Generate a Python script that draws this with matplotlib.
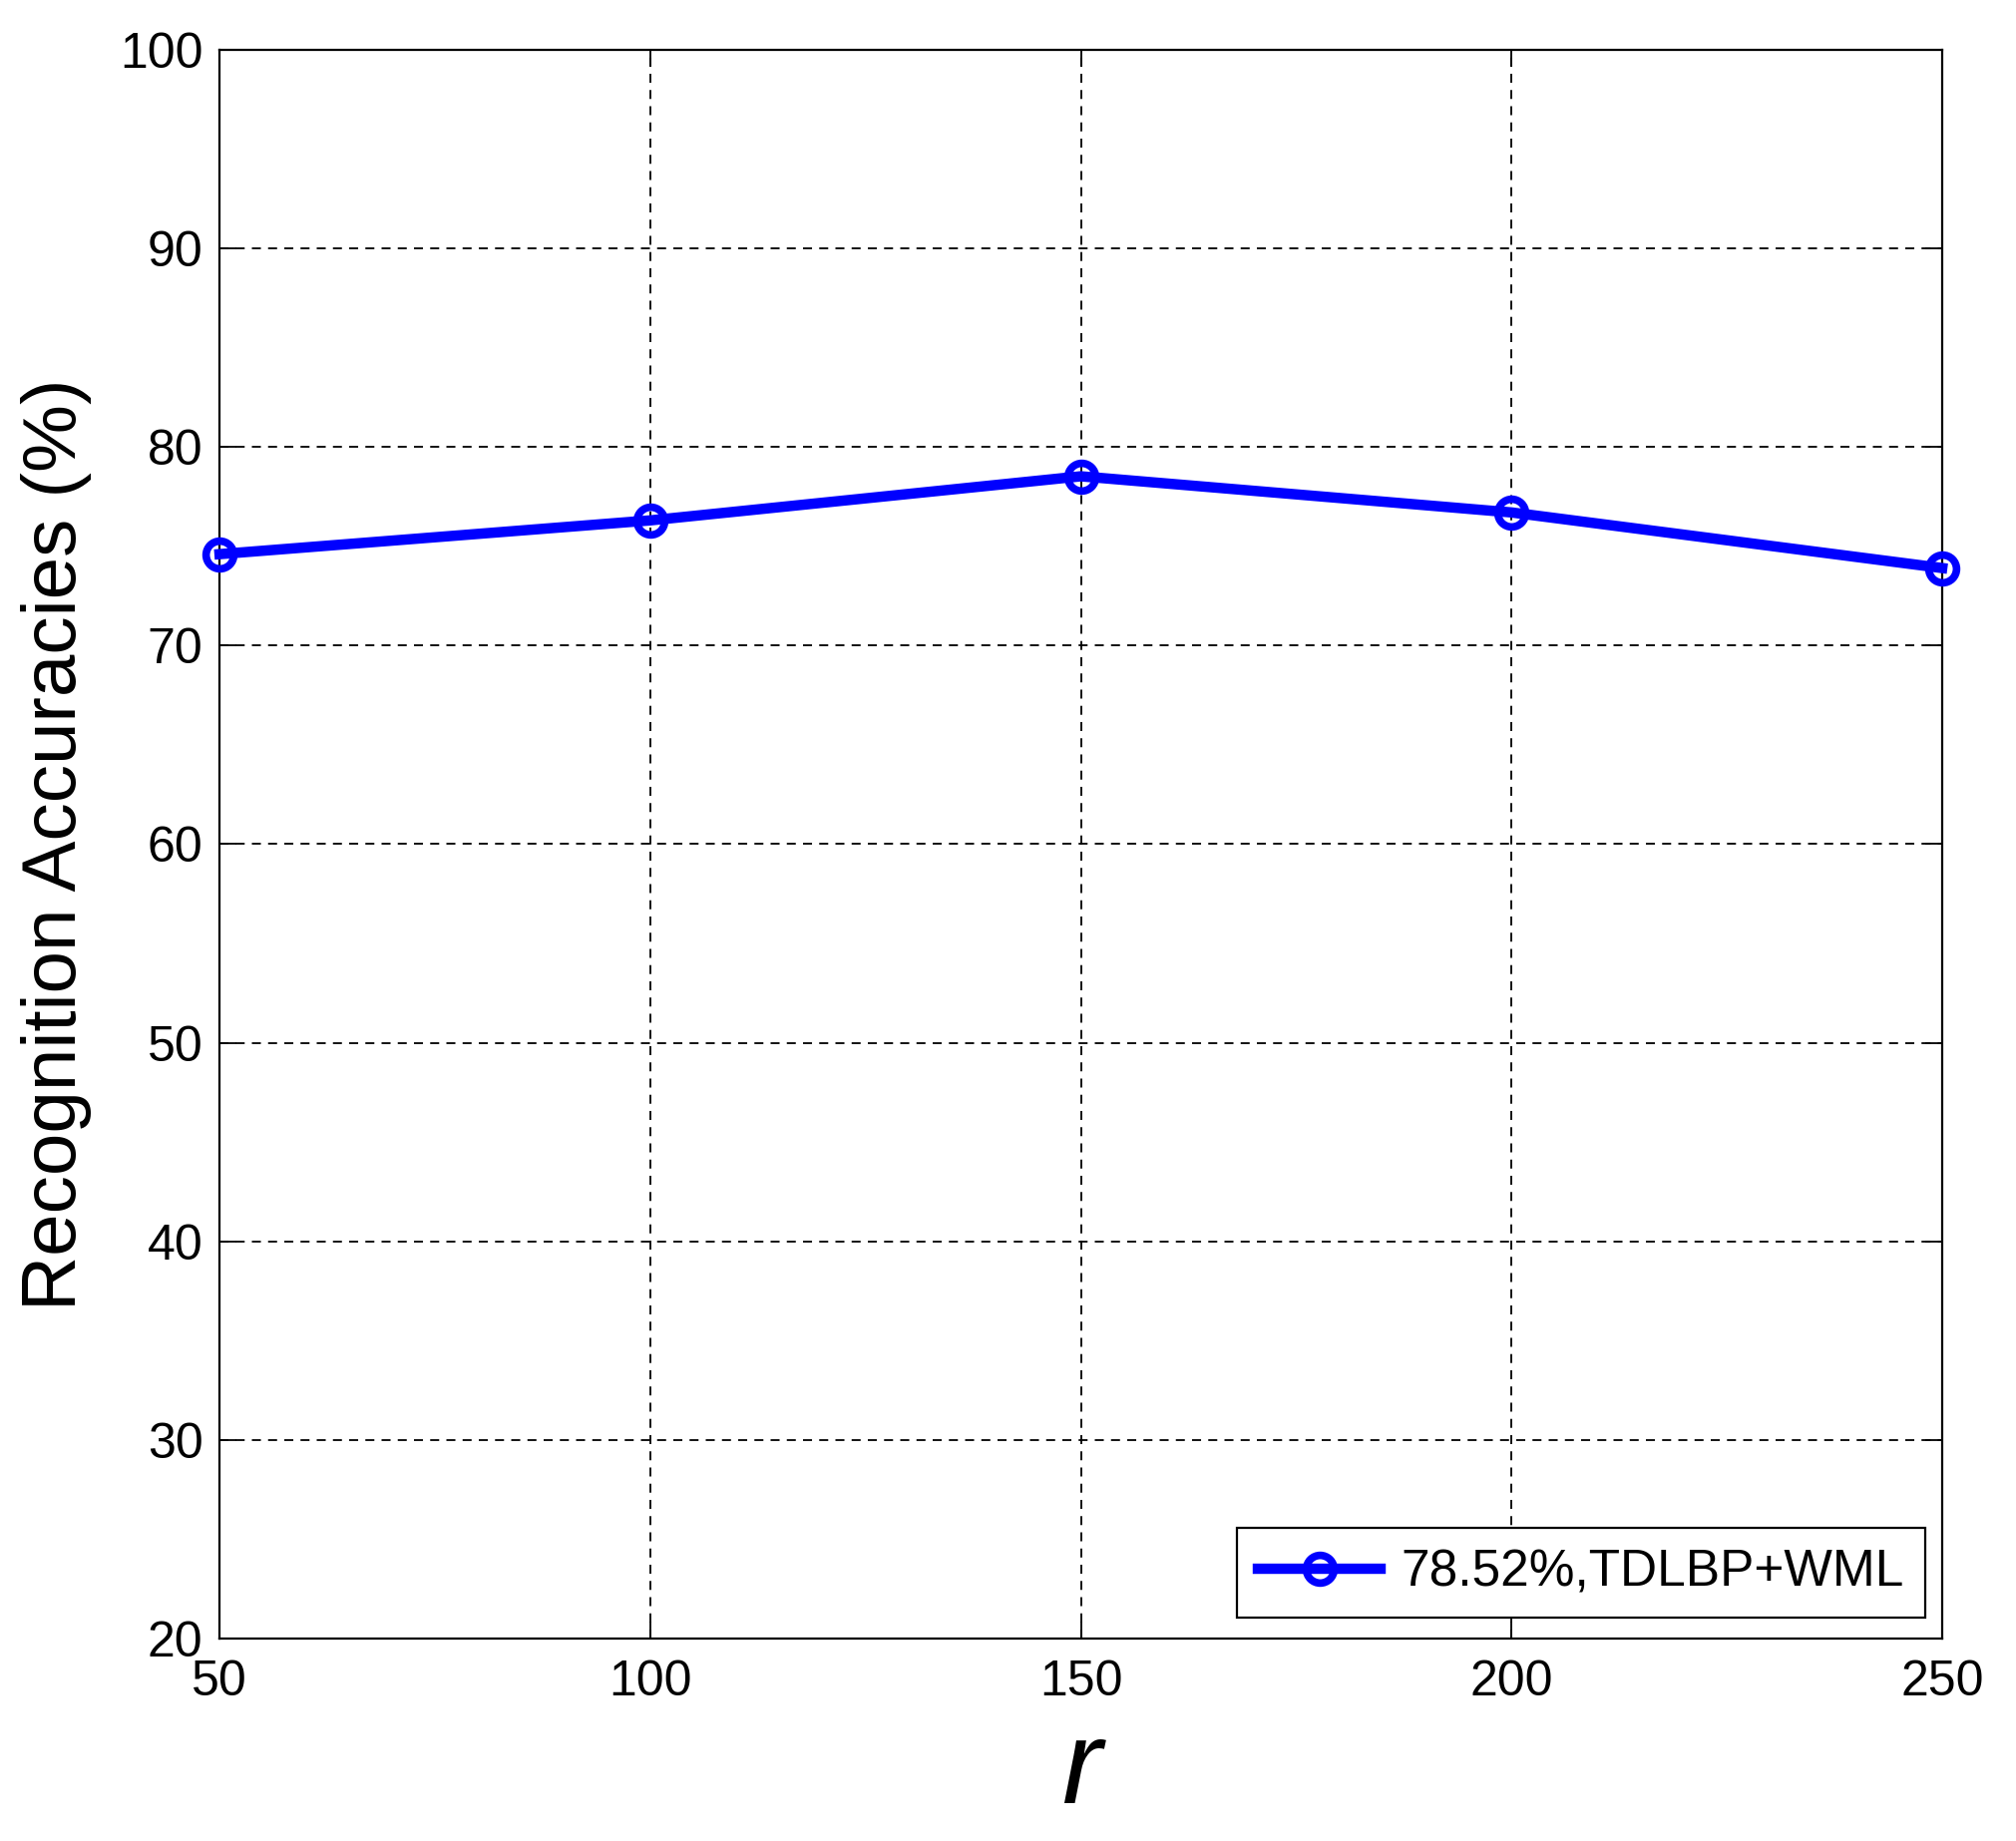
import matplotlib
matplotlib.use('Agg')
import matplotlib.pyplot as plt

# r values and recognition accuracies (%)
r_vals = [50, 100, 150, 200, 250]
accuracy = [74.6, 76.3, 78.52, 76.7, 73.9]
label = '78.52%,TDLBP+WML'
x_ticks = [50, 100, 150, 200, 250]
y_ticks = [20, 30, 40, 50, 60, 70, 80, 90, 100]

plt.rcParams['font.family'] = ['Liberation Sans', 'DejaVu Sans']


def grafico():
    fig = plt.figure(figsize=(20.21, 18.46), dpi=100)
    ax = fig.add_axes([0.1089, 0.110, 0.8545, 0.863])
    ax.plot(r_vals, accuracy, color='#0000ff', linewidth=7.5, marker='o',
            markersize=20, markerfacecolor='none', markeredgewidth=5.5,
            markeredgecolor='#0000ff', label=label, clip_on=False, zorder=3)
    ax.set_xlim(50, 250)
    ax.set_ylim(20, 100)
    ax.set_xticks(x_ticks)
    ax.set_yticks(y_ticks)
    ax.grid(True, color='black', linestyle=(0, (5, 4)), linewidth=1.3)
    ax.tick_params(direction='in', length=12, width=1.3, labelsize=36,
                   top=True, right=True)
    ax.tick_params(axis='x', pad=15)
    ax.tick_params(axis='y', pad=12)
    for s in ax.spines.values():
        s.set_linewidth(1.6)
    ax.set_ylabel('Recognition Accuracies (%)', fontsize=55, labelpad=20)
    ax.set_xlabel('r', fontsize=86, style='italic', labelpad=9)
    leg = ax.legend(loc='lower right', bbox_to_anchor=(0.990, 0.013),
                    borderaxespad=0, fontsize=37, handlelength=2.4,
                    handletextpad=0.4, borderpad=0.4, fancybox=False,
                    framealpha=1, edgecolor='black')
    leg.get_frame().set_linewidth(1.6)
    fig.savefig('out.png', dpi=100, facecolor='white')


def main():
    grafico()


main()
